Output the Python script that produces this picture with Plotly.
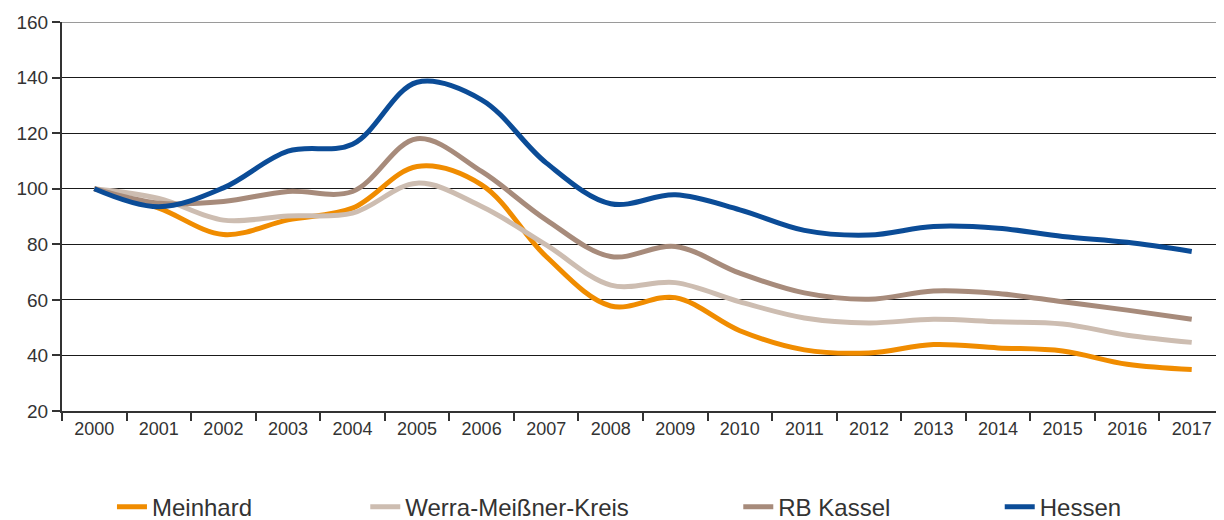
import plotly.graph_objects as go

# Jahre und Indexwerte (2000 = 100)
jahre = [str(j) for j in range(2000, 2018)]

meinhard = [100, 93, 83.5, 88.8, 93, 108, 101.4, 75.6, 57.8, 60.8,
            48.9, 42, 40.9, 43.9, 42.7, 41.6, 36.8, 34.9]
werra_meissner = [100, 96.5, 88.7, 90.2, 91.2, 102, 93.6, 79.8, 65.3, 66.2,
                  59.3, 53.5, 51.7, 53, 52.1, 51.3, 47.3, 44.7]
rb_kassel = [100, 94.8, 95.4, 99, 99, 118, 106.2, 88.8, 75.6, 79.2,
             69.6, 62.5, 60.2, 63.2, 62.3, 59.3, 56.3, 53]
hessen = [100, 93.5, 100.3, 113.5, 116, 138.3, 132, 109.3, 94.6, 97.8,
          92.4, 85, 83.3, 86.4, 85.8, 82.8, 80.7, 77.4]

reihen = [
    ("Meinhard", meinhard, "#F08C00"),
    ("Werra-Meißner-Kreis", werra_meissner, "#CDBDB1"),
    ("RB Kassel", rb_kassel, "#A78B7B"),
    ("Hessen", hessen, "#0B4C97"),
]

# Legendenpositionen (paper-Koordinaten), je eine Legende pro Reihe
legenden_x = [0.043, 0.261, 0.582, 0.807]

fig = go.Figure()

for i, (name, werte, farbe) in enumerate(reihen):
    leg = "legend" if i == 0 else f"legend{i + 1}"
    fig.add_trace(go.Scatter(
        x=jahre,
        y=werte,
        name=name,
        mode="lines",
        line=dict(color=farbe, width=5, shape="spline", smoothing=1),
        legend=leg,
    ))

font = dict(family="Liberation Sans, Arial, sans-serif", color="#333333")

layout_legenden = {}
for i, lx in enumerate(legenden_x):
    key = "legend" if i == 0 else f"legend{i + 1}"
    layout_legenden[key] = dict(
        x=lx, y=-0.247, xanchor="left", yanchor="middle",
        orientation="h", bgcolor="rgba(0,0,0,0)",
        font=dict(family=font["family"], size=24, color="#333333"),
        itemwidth=30,
    )

# Seite hat 8px Rand (body), daher 1216x512
fig.update_layout(
    width=1216,
    height=512,
    margin=dict(l=54, r=0, t=14, b=109, autoexpand=False),
    plot_bgcolor="white",
    paper_bgcolor="white",
    font=font,
    showlegend=True,
    **layout_legenden,
)

fig.update_xaxes(
    type="category",
    range=[-0.5, 17.5],
    automargin=False,
    showgrid=False,
    showline=True,
    linecolor="#333333",
    linewidth=2,
    ticks="outside",
    tickson="boundaries",
    ticklen=8,
    tickcolor="#333333",
    tickwidth=2,
    tickfont=dict(size=18),
)

fig.update_yaxes(
    range=[20, 160],
    dtick=20,
    automargin=False,
    showgrid=True,
    gridcolor="#1a1a1a",
    gridwidth=1,
    showline=True,
    linecolor="#333333",
    linewidth=2,
    ticks="outside",
    ticklen=8,
    tickcolor="#333333",
    tickwidth=2,
    tickfont=dict(size=19),
    zeroline=False,
)

# grauer oberer Rahmen bei 160
fig.add_shape(type="line", xref="paper", x0=0, x1=1, yref="y", y0=160, y1=160,
              line=dict(color="#9a9a9a", width=2))

fig.write_html("out.html")
